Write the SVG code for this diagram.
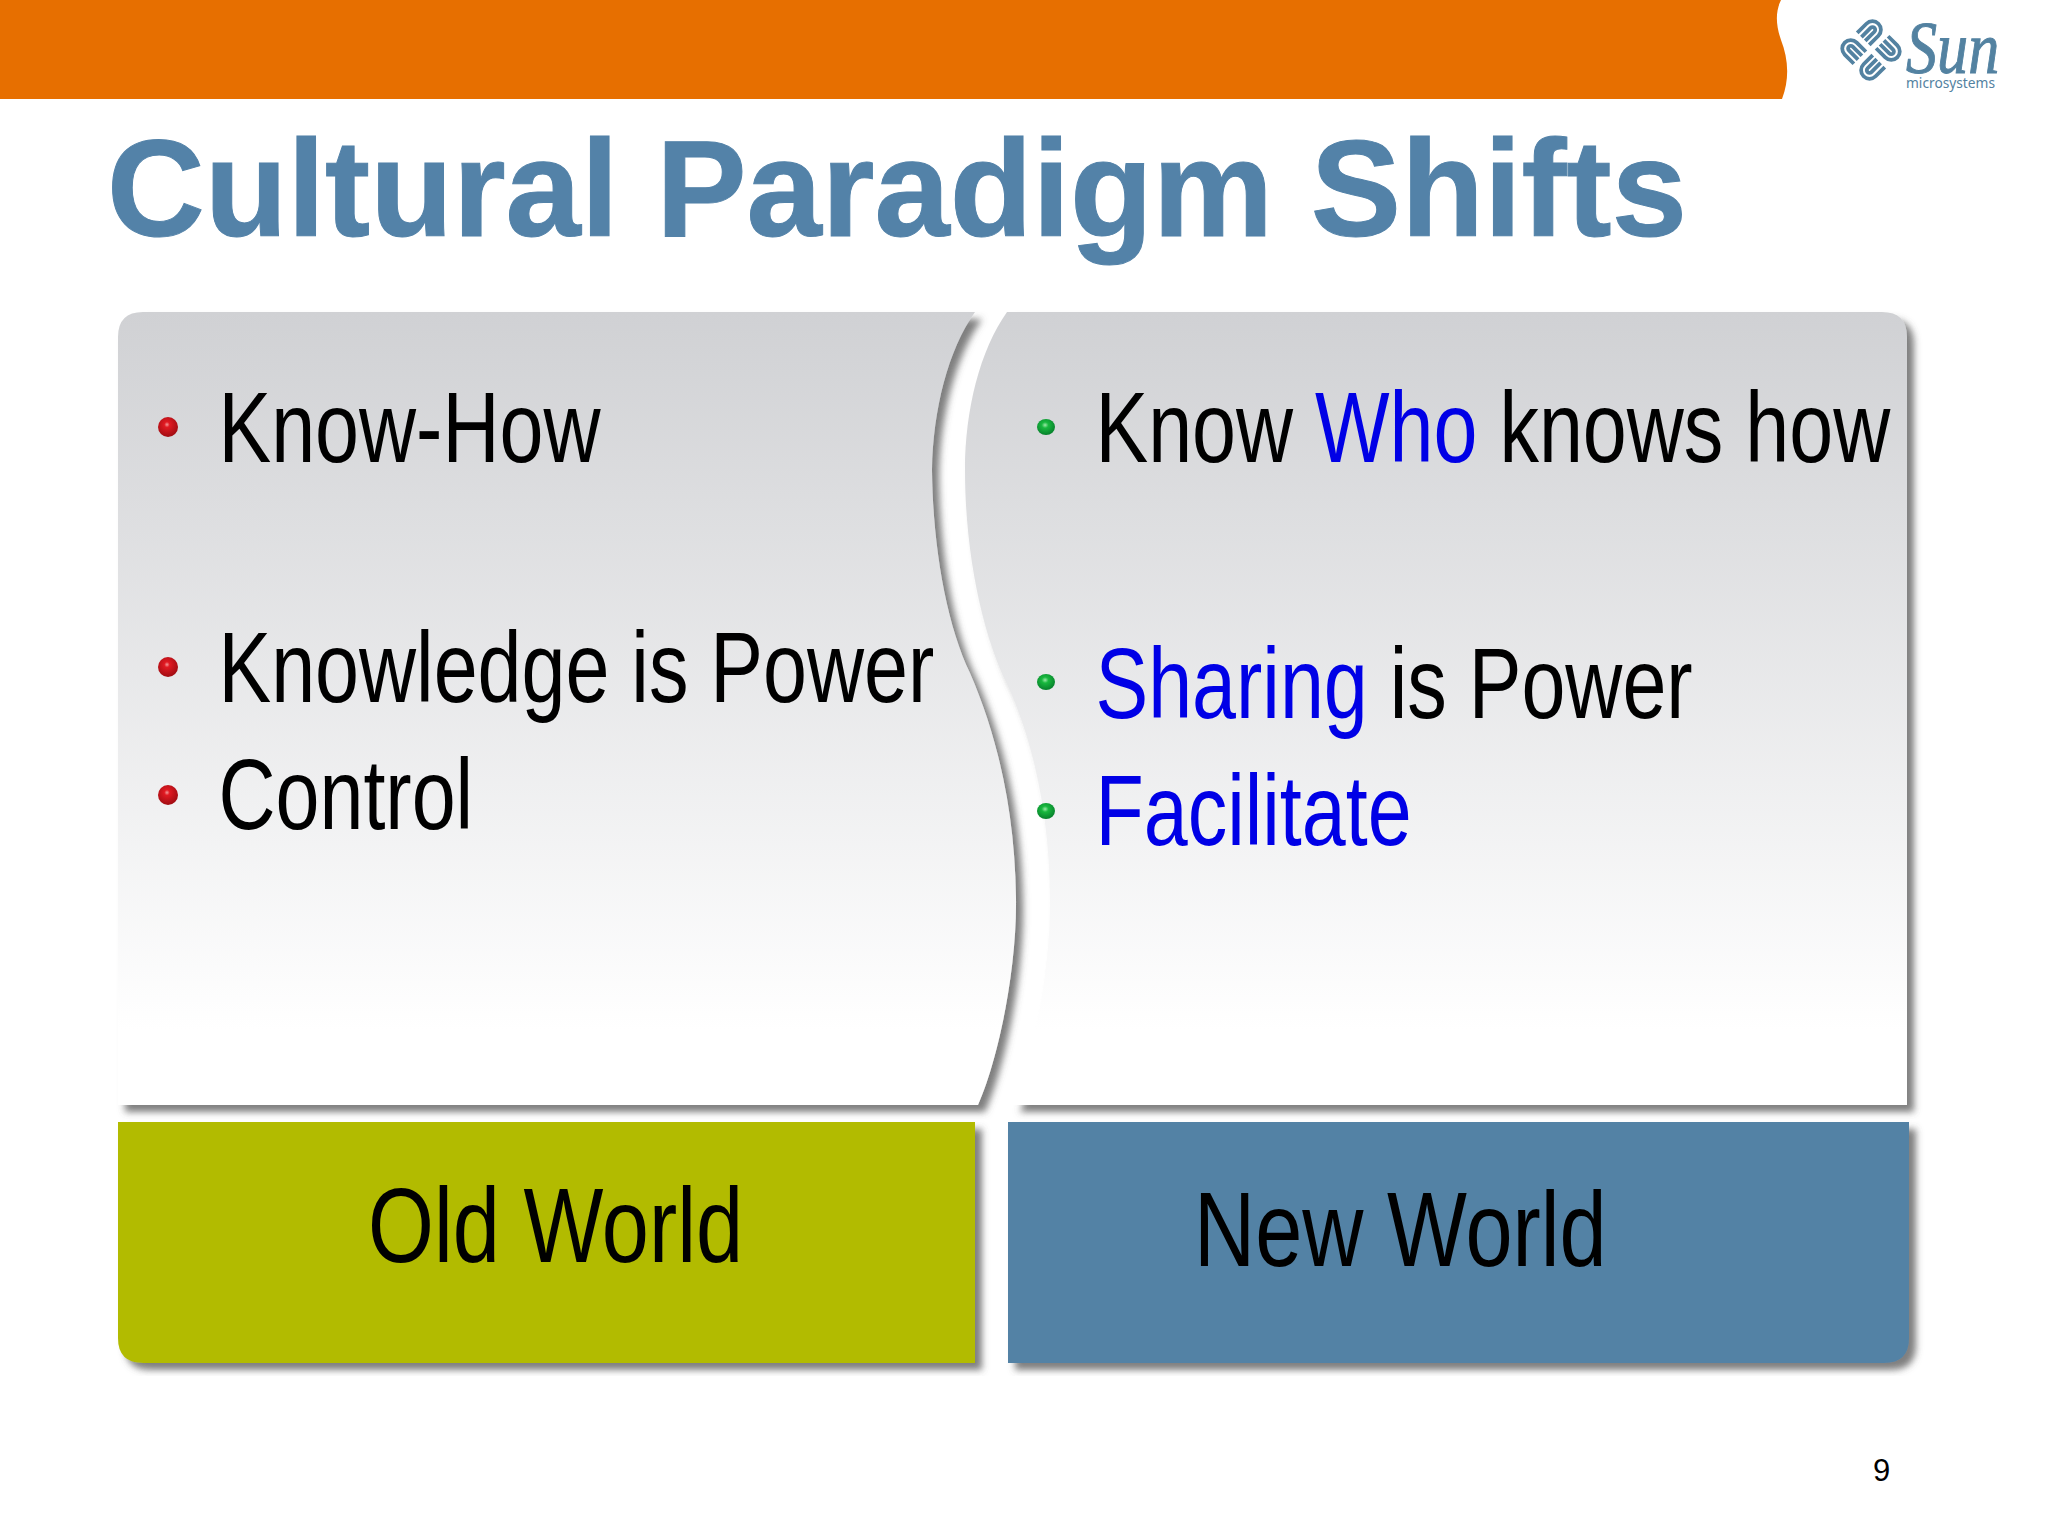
<svg xmlns="http://www.w3.org/2000/svg" width="2048" height="1535" viewBox="0 0 2048 1535">
<defs>
<linearGradient id="panelFill" gradientUnits="userSpaceOnUse" x1="0" y1="312" x2="0" y2="1030">
<stop offset="0" stop-color="#d0d1d4"/><stop offset="1" stop-color="#ffffff"/>
</linearGradient>
<radialGradient id="redBall" cx="0.45" cy="0.38" r="0.62">
<stop offset="0" stop-color="#f39a9a"/><stop offset="0.22" stop-color="#e01a22"/><stop offset="1" stop-color="#a00c12"/>
</radialGradient>
<radialGradient id="greenBall" cx="0.45" cy="0.38" r="0.62">
<stop offset="0" stop-color="#9ce8a8"/><stop offset="0.3" stop-color="#18b83e"/><stop offset="1" stop-color="#07802c"/>
</radialGradient>
<filter id="shadow" x="-5%" y="-5%" width="110%" height="110%">
<feDropShadow dx="7" dy="7" stdDeviation="3.500" flood-color="#555555" flood-opacity="0.75"/>
</filter>
<path id="sunArm" d="M2 -18.5H13a7.2 7.2 0 0 1 0 14.4H2M2 -13.5H13a2.3 2.3 0 0 1 0 4.6H2"/>
</defs>
<style>
text{font-family:"Liberation Sans",Arial,sans-serif}
.body{font-size:100px;fill:#000}
.label{font-size:105px;fill:#000}
.hi{fill:#0000e6}
.red{fill:url(#redBall)}
.green{fill:url(#greenBall)}
.panel{fill:url(#panelFill);filter:url(#shadow)}
.arm{fill:none;stroke:#5382a1;stroke-width:3.2}
</style>
<rect width="2048" height="1535" fill="#ffffff"/>
<g id="header">
<path d="M0 0H1781C1775 12 1776 26 1781 40C1788 58 1790 78 1782 99H0Z" fill="#e76f00"/>
</g>
<g id="logo">
<g transform="translate(1871 50) rotate(45) scale(1.18)">
<use href="#sunArm" class="arm"/>
<use href="#sunArm" class="arm" transform="rotate(90)"/>
<use href="#sunArm" class="arm" transform="rotate(180)"/>
<use href="#sunArm" class="arm" transform="rotate(270)"/>
</g>
<text transform="translate(1906 73) scale(.84 1)" font-size="74" stroke="#5382a1" stroke-width="1" style="font-family:'Liberation Serif',serif;font-style:italic" fill="#5382a1">Sun</text>
<text x="1906" y="88" font-size="14" textLength="89" lengthAdjust="spacingAndGlyphs" style="font-family:'Noto Sans',sans-serif" fill="#5382a1">microsystems</text>
</g>
<g id="title">
<text x="107" y="236" font-size="137" font-weight="700" fill="#5382a8" stroke="#5382a8" stroke-width="1" textLength="1580" lengthAdjust="spacingAndGlyphs">Cultural Paradigm Shifts</text>
</g>
<g id="old-panel">
<path class="panel" d="M118 337Q118 312 143 312H975C948 350 933 410 932 470C933 550 947 625 970 673C997 735 1015 810 1016 898C1017 970 998 1060 978 1105H118Z"/>
<ellipse class="red" cx="168" cy="427" rx="10" ry="10"/>
<text class="body" transform="translate(218.500 462) scale(.79 1)">Know-How</text>
<ellipse class="red" cx="168" cy="667" rx="10" ry="10"/>
<text class="body" transform="translate(218.500 702) scale(.79 1)">Knowledge is Power</text>
<ellipse class="red" cx="168" cy="795" rx="10" ry="10"/>
<text class="body" transform="translate(218.500 829) scale(.79 1)">Control</text>
</g>
<g id="new-panel">
<path class="panel" d="M1007 312H1882Q1907 312 1907 337V1105H1013C1032 1060 1050 975 1050 903C1050 820 1035 745 1007 684C985 640 965 560 965 470C965 410 980 350 1007 312Z"/>
<ellipse class="green" cx="1046" cy="427" rx="9" ry="8"/>
<text class="body" transform="translate(1095.500 462) scale(.79 1)">Know <tspan class="hi">Who</tspan> knows how</text>
<ellipse class="green" cx="1046" cy="682" rx="9" ry="8"/>
<text class="body" transform="translate(1095.500 718) scale(.79 1)"><tspan class="hi">Sharing</tspan> is Power</text>
<ellipse class="green" cx="1046" cy="811" rx="9" ry="8"/>
<text class="body hi" transform="translate(1095.500 845) scale(.79 1)">Facilitate</text>
</g>
<g id="old-world">
<path d="M118 1122H975V1363H143Q118 1363 118 1338Z" fill="#b2bb00" filter="url(#shadow)"/>
<text class="label" transform="translate(368 1262) scale(.807 1)">Old World</text>
</g>
<g id="new-world">
<path d="M1008 1122H1909V1338Q1909 1363 1884 1363H1008Z" fill="#5382a5" filter="url(#shadow)"/>
<text class="label" transform="translate(1194 1266) scale(.807 1)">New World</text>
</g>
<g id="page-number">
<text x="1873" y="1481" font-size="31" fill="#000">9</text>
</g>
<g id="connectors"/>
</svg>
